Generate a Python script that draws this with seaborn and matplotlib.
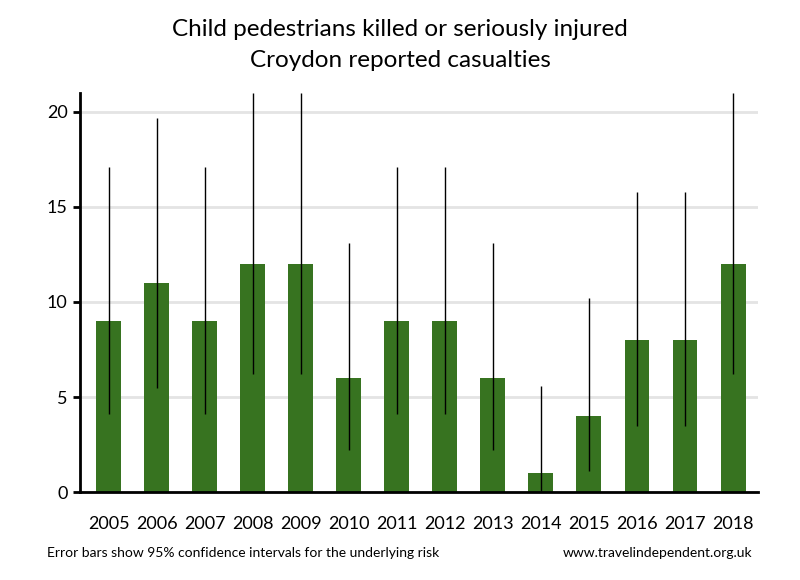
import pandas as pd
import matplotlib.pyplot as plt
import seaborn as sns

# Croydon child pedestrians KSI
years = ["2005", "2006", "2007", "2008", "2009", "2010", "2011",
         "2012", "2013", "2014", "2015", "2016", "2017", "2018"]
casualties = [9, 11, 9, 12, 12, 6, 9, 9, 6, 1, 4, 8, 8, 12]
ci_low = [4.1, 5.5, 4.1, 6.2, 6.2, 2.2, 4.1, 4.1, 2.2, 0.03, 1.1, 3.45, 3.45, 6.2]
ci_high = [17.1, 19.7, 17.1, 21.0, 21.0, 13.1, 17.1, 17.1, 13.1, 5.6, 10.2, 15.8, 15.8, 21.0]

df = pd.DataFrame({"year": years, "n": casualties, "lo": ci_low, "hi": ci_high})

sns.set_style("white")
plt.rcParams["font.family"] = ["Lato", "DejaVu Sans"]
plt.rcParams["text.color"] = "black"
plt.rcParams["xtick.color"] = "black"
plt.rcParams["ytick.color"] = "black"

fig = plt.figure(figsize=(8, 5.8), dpi=100)
ax = fig.add_axes([0.1, 0.1517, 0.8475, 0.688])

sns.barplot(data=df, x="year", y="n", color="#377320", saturation=1,
            width=0.52, errorbar=None, linewidth=0, ax=ax, zorder=2)
ax.vlines(range(len(years)), df["lo"], df["hi"], color="black", lw=1, zorder=3)

ax.set_ylim(0, 21)
ax.set_xlim(-0.6, 13.52)
ax.set_yticks([0, 5, 10, 15, 20])
ax.yaxis.grid(True, color="#e4e4e4", lw=2, zorder=0)
ax.set_axisbelow(True)
ax.set_xlabel("")
ax.set_ylabel("")

for s in ["top", "right"]:
    ax.spines[s].set_visible(False)
ax.spines["left"].set_linewidth(2)
ax.spines["bottom"].set_linewidth(2)
ax.spines["left"].set_color("black")
ax.spines["bottom"].set_color("black")
ax.tick_params(axis="y", left=True, length=5, width=2, labelsize=13, pad=4)
ax.tick_params(axis="x", bottom=False, labelsize=13, pad=14)

fig.text(0.5, 0.95, "Child pedestrians killed or seriously injured",
         ha="center", va="center", fontsize=17.5)
fig.text(0.5, 0.895, "Croydon reported casualties",
         ha="center", va="center", fontsize=17.5)
fig.text(0.059, 0.046, "Error bars show 95% confidence intervals for the underlying risk",
         ha="left", va="center", fontsize=10)
fig.text(0.94, 0.046, "www.travelindependent.org.uk",
         ha="right", va="center", fontsize=10)

plt.savefig("out.png", dpi=100)
plt.close()
